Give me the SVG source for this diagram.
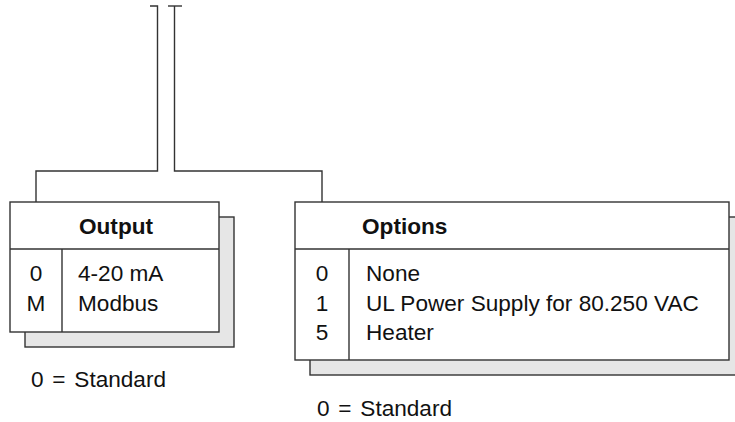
<svg xmlns="http://www.w3.org/2000/svg" width="735" height="422" viewBox="0 0 735 422">
<style>
.box{fill:#fff;stroke:#333;stroke-width:1.4}
.shadow{fill:#e6e6e6;stroke:#333;stroke-width:1.4}
.ln{fill:none;stroke:#333;stroke-width:1.4}
text{font-family:"Liberation Sans",Arial,sans-serif;font-size:22.6px;fill:#111}
.hd{font-weight:bold}
.c{text-anchor:middle}
.ws{word-spacing:2.5px}
</style>
<rect width="735" height="422" fill="#fff"/>
<g id="connectors">
<polyline class="ln" points="150,6 157.5,6 157.5,171 36,171 36,202"/>
<polyline class="ln" points="168,6 182,6"/>
<polyline class="ln" points="174.5,6 174.5,171 322,171 322,202"/>
</g>
<g id="output">
<rect class="shadow" x="25" y="217" width="209" height="130"/>
<rect class="box" x="10" y="202" width="209" height="130"/>
<line class="ln" x1="10" y1="249" x2="219" y2="249"/>
<line class="ln" x1="62" y1="249" x2="62" y2="332"/>
<text class="hd c" x="116" y="234">Output</text>
<text class="c" x="36" y="281">0</text>
<text class="c" x="36" y="310.5">M</text>
<text x="78" y="281">4-20 mA</text>
<text x="78" y="310.5">Modbus</text>
<text class="ws" x="31" y="387">0 = Standard</text>
</g>
<g id="options">
<rect class="shadow" x="310" y="217" width="434" height="158"/>
<rect class="box" x="295" y="202" width="434" height="158"/>
<line class="ln" x1="295" y1="249" x2="729" y2="249"/>
<line class="ln" x1="349" y1="249" x2="349" y2="360"/>
<text class="hd" x="362" y="233.5">Options</text>
<text class="c" x="322" y="281">0</text>
<text class="c" x="322" y="310.5">1</text>
<text class="c" x="322" y="340">5</text>
<text x="366" y="281">None</text>
<text x="366" y="310.5">UL Power Supply for 80.250 VAC</text>
<text x="366" y="340">Heater</text>
<text class="ws" x="317" y="416">0 = Standard</text>
</g>
</svg>
